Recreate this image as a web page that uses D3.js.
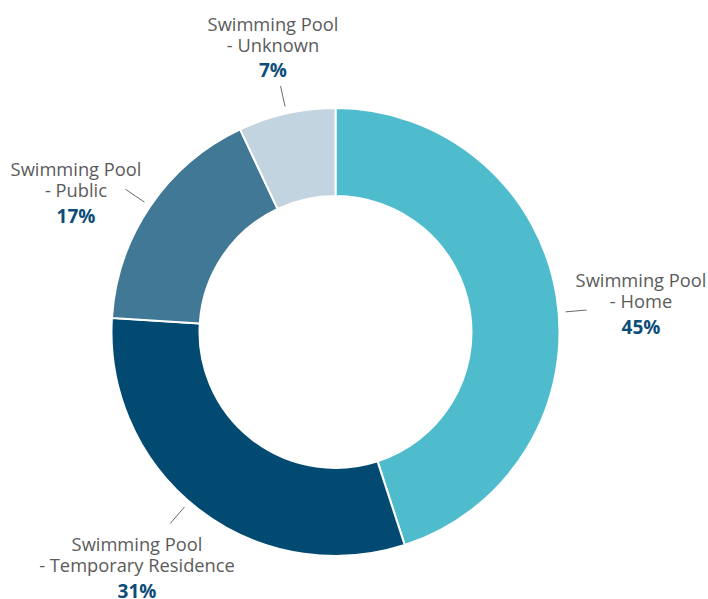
<!DOCTYPE html>
<html>
<head>
<meta charset="utf-8">
<script src="https://cdn.jsdelivr.net/npm/d3@7"></script>
<style>
  html, body { margin: 0; padding: 0; background: #fff; }
  svg { display: block; }
  .lbl { font-family: "Open Sans", sans-serif; font-size: 18.3px; fill: #5b5b5b; }
  .pct { font-size: 19px; font-weight: 700; fill: #0d4d78; }
</style>
</head>
<body>
<svg id="chart" width="708" height="599"></svg>
<script>
// Share of cases by swimming pool location
const categories = ["Swimming Pool - Home", "Swimming Pool - Temporary Residence", "Swimming Pool - Public", "Swimming Pool - Unknown"];
const titleLines = [["Swimming Pool", "- Home"], ["Swimming Pool", "- Temporary Residence"], ["Swimming Pool", "- Public"], ["Swimming Pool", "- Unknown"]];
const values = [45, 31, 17, 7];
const colors = ["#4fbccd", "#034a73", "#417896", "#c2d4e0"];

// Label layout: block centre, first baseline, leader angle nudge (deg), leader direction (deg, null = radial)
const labelLayout = [
  { x: 641, y: 287, nudge: 4, dir: 85, len: 21 },
  { x: 137, y: 551, nudge: 3, dir: null, len: 22 },
  { x: 76,  y: 176, nudge: 0, dir: null, len: 23 },
  { x: 273, y: 30.5, nudge: 0, dir: null, len: 21 }
];

const svg = d3.select("#chart");
const cx = 335.5, cy = 332, outerR = 224, innerR = 136;

const pie = d3.pie().sort(null).value(d => d.value);
const arcs = pie(values.map((v, i) => ({ value: v, i })));
const arc = d3.arc().innerRadius(innerR).outerRadius(outerR);

const g = svg.append("g").attr("transform", `translate(${cx},${cy})`);

g.selectAll("path.slice")
  .data(arcs)
  .join("path")
  .attr("class", "slice")
  .attr("d", arc)
  .attr("fill", d => colors[d.data.i])
  .attr("stroke", "#fff")
  .attr("stroke-width", 2);

// Leader lines
const pt = (ang, r) => [r * Math.sin(ang), -r * Math.cos(ang)];
arcs.forEach(d => {
  const L = labelLayout[d.data.i];
  const mid = (d.startAngle + d.endAngle) / 2 + L.nudge * Math.PI / 180;
  const p0 = pt(mid, outerR + 7);
  const dir = L.dir == null ? mid : L.dir * Math.PI / 180;
  const p1 = [p0[0] + L.len * Math.sin(dir), p0[1] - L.len * Math.cos(dir)];
  g.append("line")
    .attr("x1", p0[0]).attr("y1", p0[1])
    .attr("x2", p1[0]).attr("y2", p1[1])
    .attr("stroke", "#6b6b6b")
    .attr("stroke-width", 1);
});

// Labels: one text block per slice, lines as tspans
arcs.forEach(d => {
  const i = d.data.i;
  const L = labelLayout[i];
  const t = svg.append("text").attr("class", "lbl")
    .attr("x", L.x).attr("y", L.y)
    .attr("text-anchor", "middle");
  titleLines[i].forEach((s, k) => {
    t.append("tspan").attr("x", L.x).attr("y", L.y + k * 21).text(s);
  });
  t.append("tspan").attr("class", "pct")
    .attr("x", L.x).attr("y", L.y + 46.5)
    .text(values[i] + "%");
});
</script>
</body>
</html>
